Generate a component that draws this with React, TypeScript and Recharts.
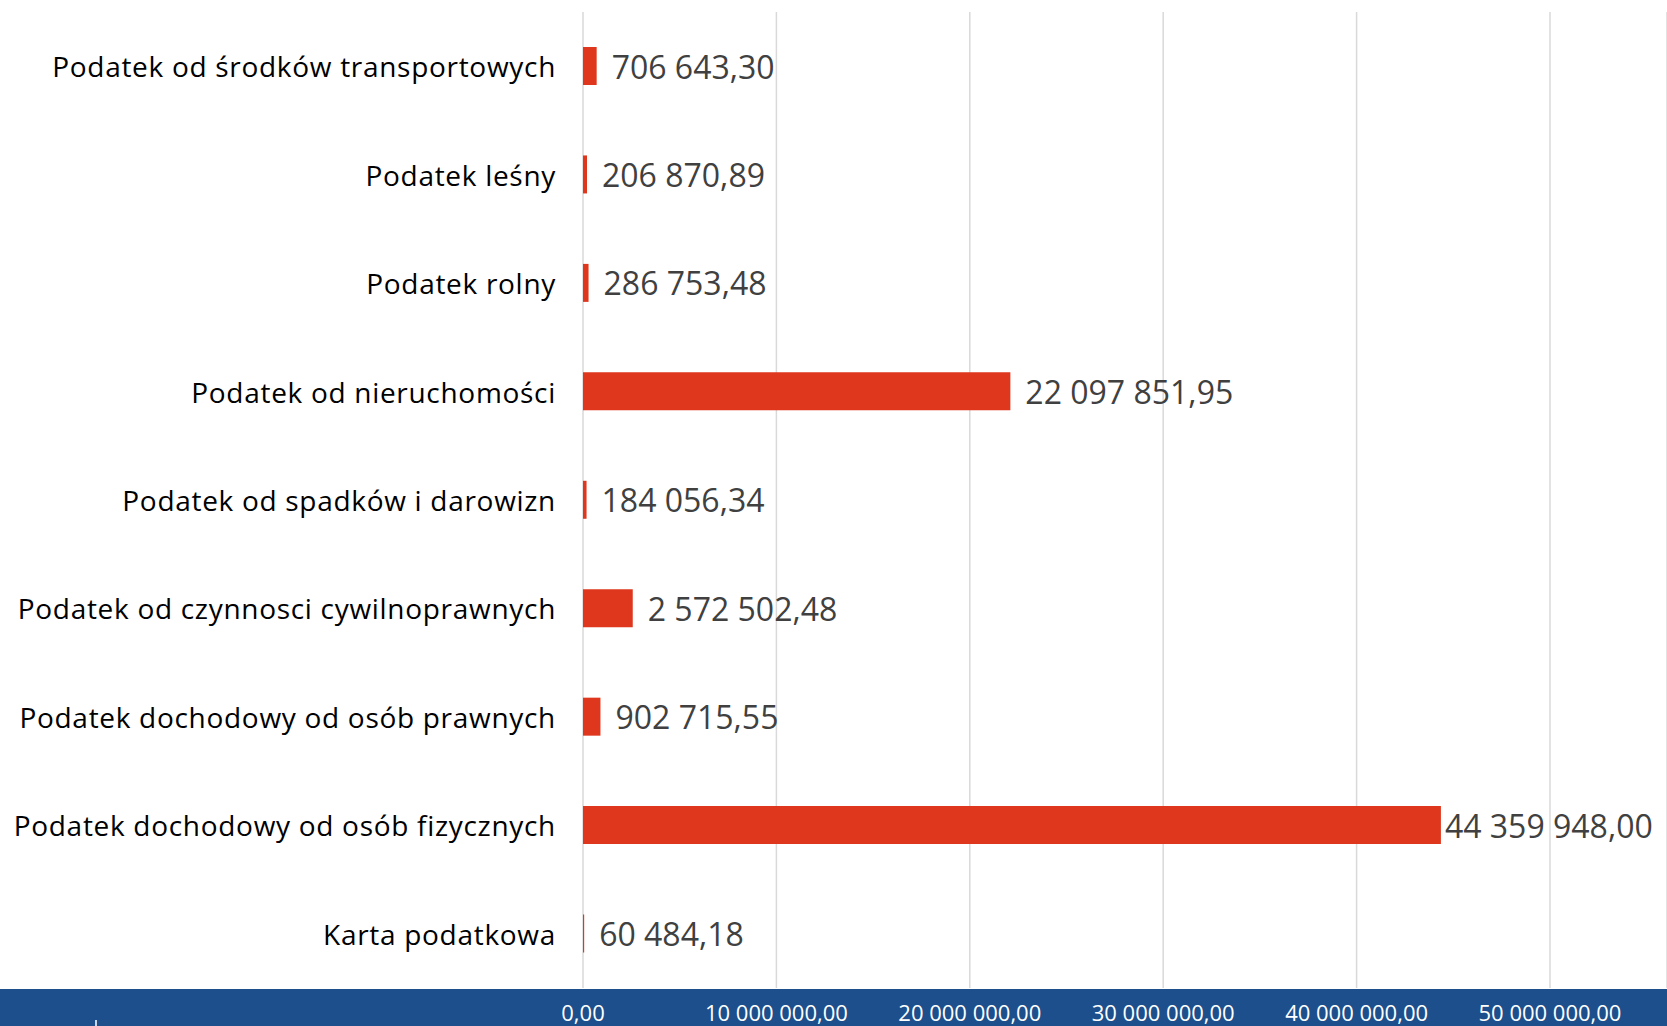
import { Bar, BarChart, CartesianGrid, LabelList, XAxis, YAxis } from 'recharts';

const categories = [
    'Podatek od środków transportowych',
    'Podatek leśny',
    'Podatek rolny',
    'Podatek od nieruchomości',
    'Podatek od spadków i darowizn',
    'Podatek od czynnosci cywilnoprawnych',
    'Podatek dochodowy od osób prawnych',
    'Podatek dochodowy od osób fizycznych',
    'Karta podatkowa',
];
const amounts = [
    706643.3, 206870.89, 286753.48, 22097851.95, 184056.34, 2572502.48,
    902715.55, 44359948.0, 60484.18,
];
const xTicks = [0, 10000000, 20000000, 30000000, 40000000, 50000000];

const data = categories.map((name, i) => ({ name, value: amounts[i] }));

const W = 1667;
const H = 1026;
const FONT = '"Open Sans", sans-serif';
const LABEL_SIZE = 32;

// 1 234 567,89
function plNumber(v: number) {
    const [int, dec] = v.toFixed(2).split('.');
    return int.replace(/\B(?=(\d{3})+(?!\d))/g, ' ') + ',' + dec;
}

let ctx: CanvasRenderingContext2D | null = null;
function textWidth(s: string) {
    if (!ctx) ctx = document.createElement('canvas').getContext('2d');
    if (!ctx) return s.length * LABEL_SIZE * 0.55;
    ctx.font = `${LABEL_SIZE}px ${FONT}`;
    return ctx.measureText(s).width;
}

function ValueLabel(props: any) {
    const { x, y, width, height, value } = props;
    const text = plNumber(Number(value));
    let left = x + width + 15;
    const w = textWidth(text);
    // excel pulls the label in when it would run off the right edge
    if (left + w > W - 12) left = x + width + 4;
    return (
        <text
            x={left}
            y={y + height / 2}
            dominantBaseline="central"
            fill="#404040"
            fontSize={LABEL_SIZE}
            fontFamily={FONT}
        >
            {text}
        </text>
    );
}

function CategoryTick(props: any) {
    const { x, y, payload } = props;
    return (
        <text
            x={x}
            y={y}
            textAnchor="end"
            dominantBaseline="central"
            fill="#000"
            fontSize={28}
            letterSpacing={0.7}
            fontFamily={FONT}
        >
            {payload.value}
        </text>
    );
}

function AmountTick(props: any) {
    const { x, y, payload } = props;
    return (
        <text
            x={x}
            y={y + 24}
            textAnchor="middle"
            dominantBaseline="central"
            fill="#fff"
            fontSize={22}
            fontFamily={FONT}
        >
            {plNumber(payload.value)}
        </text>
    );
}

export default function App() {
    return (
        <div
            style={{
                position: 'absolute',
                left: 0,
                top: 0,
                width: W,
                height: H,
                background: '#fff',
                overflow: 'hidden',
            }}
        >
            <div
                style={{
                    position: 'absolute',
                    left: 0,
                    top: 989,
                    width: W,
                    height: H - 989,
                    background: '#1c4f8c',
                }}
            />
            <div
                style={{
                    position: 'absolute',
                    left: 95,
                    top: 1020,
                    width: 2,
                    height: 6,
                    background: '#c9d6ea',
                }}
            />
            <div style={{ position: 'absolute', left: 0, top: 0 }}>
                <BarChart
                    width={W}
                    height={H}
                    data={data}
                    layout="vertical"
                    margin={{ top: 12, right: 0, bottom: 0, left: 0 }}
                    barCategoryGap={0}
                >
                    <CartesianGrid
                        horizontal={false}
                        stroke="#d9d9d9"
                        strokeWidth={1.5}
                    />
                    <XAxis
                        type="number"
                        domain={[0, 56050000]}
                        ticks={xTicks}
                        allowDataOverflow
                        height={38}
                        axisLine={false}
                        tickLine={false}
                        tickSize={0}
                        tickMargin={0}
                        tick={<AmountTick />}
                        interval={0}
                    />
                    <YAxis
                        type="category"
                        dataKey="name"
                        width={583}
                        axisLine={false}
                        tickLine={false}
                        tickSize={0}
                        tickMargin={27}
                        tick={<CategoryTick />}
                        interval={0}
                    />
                    <Bar
                        dataKey="value"
                        fill="#de371d"
                        barSize={38}
                        isAnimationActive={false}
                    >
                        <LabelList dataKey="value" content={<ValueLabel />} />
                    </Bar>
                </BarChart>
            </div>
        </div>
    );
}
